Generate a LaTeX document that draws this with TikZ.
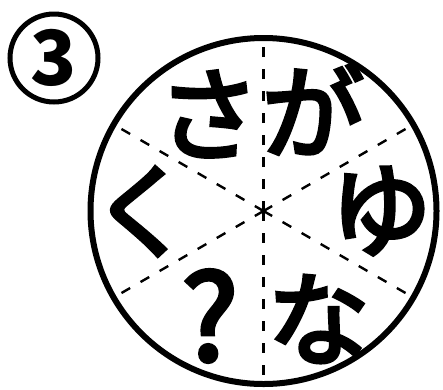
\documentclass[tikz,border=0pt]{standalone}
\usepackage{fontspec}
\usetikzlibrary{calc}
\newfontfamily\jp{Noto Sans CJK JP}
\newfontfamily\jpm{Noto Sans CJK JP}[FakeBold=4]
\begin{document}
\begin{tikzpicture}[x=1pt,y=-1pt,
  ch/.style={inner sep=0pt,font=\jpm\fontsize{102}{102}\selectfont},
  cut/.style={line width=2.4pt,dash pattern=on 10pt off 12pt}]
\useasboundingbox (0,0) rectangle (443,389);
\coordinate (c) at (263.5,211);
% sector dividers
\foreach \a/\n in {90/t,-90/b,30/ur,150/ul,-30/lr,-150/ll}
  \coordinate (\n) at ($(c)+(\a:174pt)$);
\draw[cut] (c) -- (t);
\draw[cut] (c) -- (b);
\draw[cut] (c) -- (ul);
\draw[cut] (c) -- (ur);
\draw[cut] (c) -- (ll);
\draw[cut] (c) -- (lr);
\draw[line width=6pt] (c) circle[radius=173pt];
% letters
\node[ch] (sa) at (208.5,114) {さ};
\node[ch] (ga) at (313,109) {が};
\node[ch] (yu) at (381,211) {ゆ};
\node[ch] (na) at (318.5,319) {な};
\node[ch,font=\jpm\fontsize{118}{118}\selectfont] (q) at (210,316) {?};
\node[ch] (ku) at (142,211.5) {く};
% circled number
\node[circle,draw,line width=5pt,minimum size=88pt,inner sep=0pt] (num) at (54,58) {};
\node[inner sep=0pt,font=\jp\bfseries\fontsize{76}{76}\selectfont] (three) at (num.center) {3};
\end{tikzpicture}
\end{document}
